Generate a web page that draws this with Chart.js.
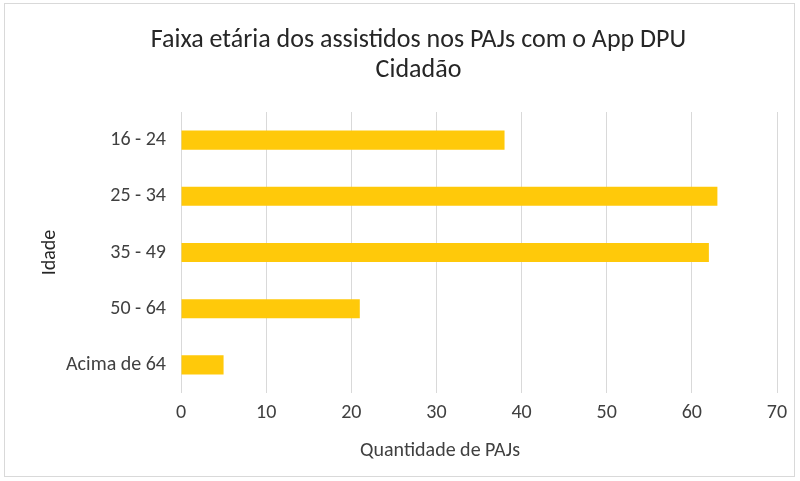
<!DOCTYPE html>
<html>
<head>
<meta charset="utf-8">
<script src="https://cdn.jsdelivr.net/npm/chart.js@4"></script>
<style>
  html, body { margin: 0; padding: 0; background: #fff; }
  #wrap { position: relative; width: 800px; height: 481px; }
  #frame { position: absolute; left: 4px; top: 3px; width: 791px; height: 474px; border: 1px solid #d9d9d9; box-sizing: border-box; }
  canvas { position: absolute; left: 0; top: 0; }
</style>
</head>
<body>
<div id="wrap">
  <div id="frame"></div>
  <canvas id="ageChart" width="800" height="481"></canvas>
</div>
<script>
// data
const ageGroups = ['16 - 24', '25 - 34', '35 - 49', '50 - 64', 'Acima de 64'];
const pajCounts = [38, 63, 62, 21, 5];
const chartTitle = ['Faixa etária dos assistidos nos PAJs com o App DPU', 'Cidadão'];

const fontFamily = 'Carlito, Lato, "Open Sans", sans-serif';

document.addEventListener('DOMContentLoaded', drawAgeChart);

// the original has its chart title and x title a little off-centre
const titleShift = {
	id: 'titleShift',
	beforeDraw(chart) {
		chart.titleBlock.left += 50;
		chart.scales.x.right -= 78;
	},
	beforeDatasetsDraw(chart) {
		chart.scales.x.right += 78;	// put it back, else the bars get clipped
	}
};

function drawAgeChart() {
	const ctx = document.getElementById('ageChart').getContext('2d');

	new Chart(ctx, {
		type: 'bar',
		data: {
			labels: ageGroups,
			datasets: [{
				label: 'Quantidade de PAJs',
				data: pajCounts,
				backgroundColor: '#FFC90A',
				borderWidth: 0,
				barPercentage: 0.34,
				categoryPercentage: 1
			}]
		},
		options: {
			indexAxis: 'y',
			responsive: false,
			animation: false,
			layout: { padding: { left: 10, right: 23, top: 0, bottom: 14 } },
			plugins: {
				legend: { display: false },
				tooltip: { enabled: false },
				title: {
					display: true,
					text: chartTitle,
					color: '#262626',
					font: { family: fontFamily, size: 26, weight: 'normal', lineHeight: 1.154 },
					padding: { top: 25, bottom: 27 }
				}
			},
			scales: {
				x: {
					min: 0,
					max: 70,
					ticks: { stepSize: 10, color: '#404040', padding: 8, font: { family: fontFamily, size: 20 } },
					grid: { color: '#d9d9d9', drawTicks: false },
					border: { display: false },
					title: {
						display: true,
						text: 'Quantidade de PAJs',
						color: '#404040',
						font: { family: fontFamily, size: 20 },
						padding: { top: 17 }
					},
					afterFit: (scale) => {
						scale.height = 74;
						scale.paddingLeft = 0;
						scale.paddingRight = 0;
					}
				},
				y: {
					ticks: { color: '#404040', padding: 7, font: { family: fontFamily, size: 20 } },
					grid: { display: false },
					border: { display: false },
					title: {
						display: true,
						text: 'Idade',
						color: '#262626',
						font: { family: fontFamily, size: 20 },
						padding: { top: 28, bottom: 0 }
					},
					afterFit: (scale) => { scale.width = 171; }
				}
			}
		},
		plugins: [titleShift]
	});
}
</script>
</body>
</html>
